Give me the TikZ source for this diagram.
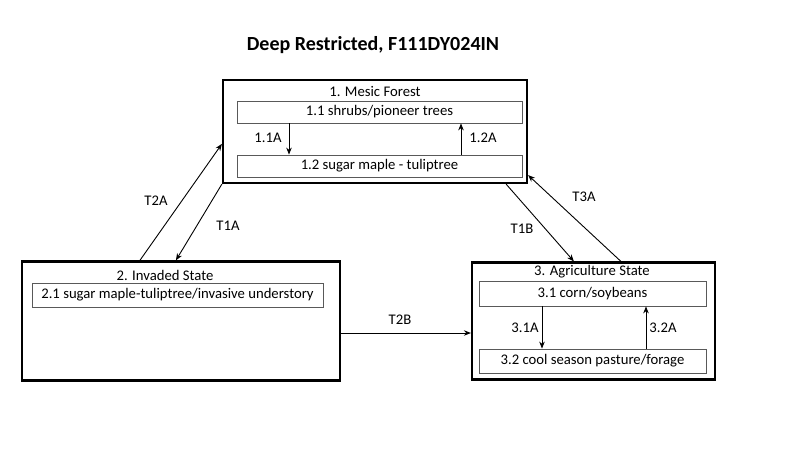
\documentclass[tikz,border=0pt]{standalone}
\usepackage{fontspec}
\setmainfont{Carlito}
\usepackage{tikz}
\usetikzlibrary{arrows.meta}

\begin{document}
\begin{tikzpicture}[x=1pt, y=-1pt, font=\fontsize{14.7}{18}\selectfont,
        	statebox/.style={draw, line width=2.2pt, inner sep=0pt},
        	phasebox/.style={draw=black!65, line width=0.8pt, inner sep=0pt},
        	trans/.style={-{Stealth[length=7pt,width=5.5pt]}, line width=0.9pt}]
            \useasboundingbox (0,0) rectangle (800,450);
            \node[font=\fontsize{20}{24}\selectfont\bfseries] (title) at (373,45) {Deep Restricted, F111DY024IN};
            % states
            \node[statebox, minimum width=304, minimum height=103] (mesic) at (375,131.5) {};
            \node[statebox, minimum width=318, minimum height=119] (invaded) at (181,321) {};
            \node[statebox, minimum width=243, minimum height=117] (agri) at (593.5,321) {};
            \node (mesictitle) at (375,91) {1. Mesic Forest};
            \node (invadedtitle) at (165,275) {2. Invaded State};
            \node (agrititle) at (592,272) {3. Agriculture State};
            % phases
            \node[phasebox, minimum width=285, minimum height=22] (p11) at (379.5,112) {1.1 shrubs/pioneer trees};
            \node[phasebox, minimum width=285, minimum height=22] (p12) at (379.5,166) {1.2 sugar maple - tuliptree};
            \node[phasebox, minimum width=291, minimum height=24] (p21) at (177.5,295) {2.1 sugar maple-tuliptree/invasive understory};
            \node[phasebox, minimum width=227, minimum height=25] (p31) at (592.5,293.5) {3.1 corn/soybeans};
            \node[phasebox, minimum width=227, minimum height=24] (p32) at (592.5,361) {3.2 cool season pasture/forage};
            % pathways
            \draw[trans] ([xshift=-90.5pt]p11.south) -- ([xshift=-90.5pt]p12.north);
            \draw[trans] ([xshift=81.5pt]p12.north) -- ([xshift=81.5pt]p11.south);
            \draw[trans] ([xshift=-50.5pt]p31.south) -- ([xshift=-50.5pt]p32.north);
            \draw[trans] ([xshift=53.5pt]p32.north) -- ([xshift=53.5pt]p31.south);
            \node (l11) at (268,138) {1.1A};
            \node (l12) at (483,138) {1.2A};
            \node (l31) at (525,328) {3.1A};
            \node (l32) at (663,328) {3.2A};
            % transitions
            \draw[trans] ([xshift=119pt]invaded.north west) -- ([yshift=-65pt]mesic.north west);
            \draw[trans] (mesic.south west) -- ([xshift=155pt]invaded.north west);
            \draw[trans] ([xshift=-22pt]mesic.south east) -- ([xshift=103pt]agri.north west);
            \draw[trans] ([xshift=150pt]agri.north west) -- ([yshift=9pt]mesic.south east);
            \draw[trans] ([yshift=-12pt]invaded.east) -- ([yshift=-12pt]agri.west);
            \node (t2a) at (156,201) {T2A};
            \node (t1a) at (228,226) {T1A};
            \node (t1b) at (522,229) {T1B};
            \node (t3a) at (584,197) {T3A};
            \node (t2b) at (400,320) {T2B};
        \end{tikzpicture}
\end{document}
